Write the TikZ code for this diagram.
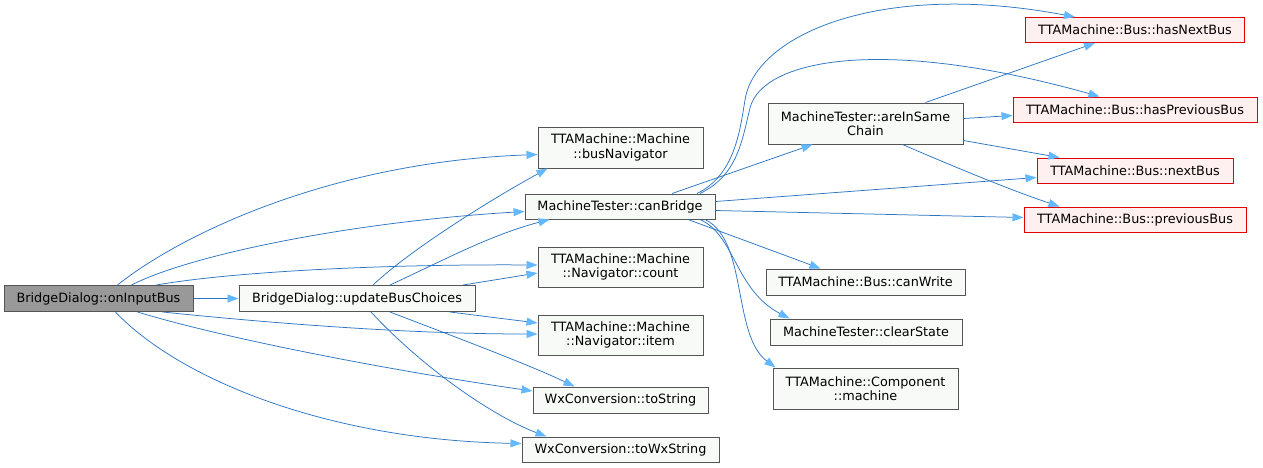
\documentclass[tikz,border=0pt]{standalone}
\usepackage{fontspec}
\setmainfont{DejaVu Sans}
\usepackage{tikz}
\usetikzlibrary{calc,arrows.meta}
\usepackage{xcolor}
\definecolor{edgeblue}{RGB}{45,118,196}
\definecolor{tipblue}{RGB}{99,184,255}
\definecolor{boxgray}{RGB}{85,85,85}
\definecolor{boxfill}{RGB}{248,250,248}
\definecolor{rootfill}{RGB}{153,153,153}
\definecolor{redfill}{RGB}{255,240,240}
\definecolor{redline}{RGB}{225,0,0}

\begin{document}
\begin{tikzpicture}[x=1pt,y=-1pt,
  fn/.style={rectangle,draw=boxgray,fill=boxfill,line width=1pt,minimum height=26pt,inner sep=0pt,align=center,font=\fontsize{12.8}{14.5}\selectfont},
  fnroot/.style={fn,fill=rootfill},
  fnred/.style={fn,draw=redline,fill=redfill,minimum height=25pt},
  call/.style={draw=edgeblue,line width=0.75pt,-{Triangle[length=11pt,width=8pt,color=tipblue]}}]
\useasboundingbox[fill=white] (0,0) rectangle (1263,467);
\node (root) at (98.5,298.5) [fnroot,minimum width=189pt] {BridgeDialog::onInputBus};
\node (upd) at (357,298.5) [fn,minimum width=236pt] {BridgeDialog::updateBusChoices};
\node (bnav) at (620.5,147.5) [fn,minimum width=165pt,minimum height=41pt] {TTAMachine::Machine\\::busNavigator};
\node (canb) at (620,206.5) [fn,minimum width=190pt,minimum height=25pt] {MachineTester::canBridge};
\node (cnt) at (620.5,267) [fn,minimum width=165pt,minimum height=40pt] {TTAMachine::Machine\\::Navigator::count};
\node (itm) at (620.5,335) [fn,minimum width=165pt,minimum height=40pt] {TTAMachine::Machine\\::Navigator::item};
\node (tostr) at (620.5,400) [fn,minimum width=175pt] {WxConversion::toString};
\node (towx) at (620.5,449.5) [fn,minimum width=197pt,minimum height=25pt] {WxConversion::toWxString};
\node (same) at (865.5,123.5) [fn,minimum width=195pt,minimum height=41pt] {MachineTester::areInSame\\Chain};
\node (cwr) at (865.5,282) [fn,minimum width=199pt] {TTAMachine::Bus::canWrite};
\node (clr) at (866,332) [fn,minimum width=192pt] {MachineTester::clearState};
\node (mach) at (865.5,388.5) [fn,minimum width=185pt,minimum height=41pt] {TTAMachine::Component\\::machine};
\foreach \nm/\yy/\ww/\txt in {hnext/30/219/hasNextBus,hprev/109.5/244/hasPreviousBus,nbus/170.5/196/nextBus,pbus/219.5/222/previousBus} {
    \node (\nm) at (1135,\yy) [fnred,minimum width=\ww pt] {TTAMachine::Bus::\txt};
}

\draw[call] (root.east) -- (upd.west);
\draw[call] ($(root.north)+(19,0)$) .. controls (180,235) and (330,162) .. ($(bnav.west)+(0,7)$);
\draw[call] ($(root.north)+(33,0)$) .. controls (190,255) and (350,222) .. ($(canb.west)+(0,5)$);
\draw[call] ($(root.north)+(58,0)$) .. controls (230,272) and (380,264) .. ($(cnt.west)+(0,-2)$);
\draw[call] ($(root.south)+(64,0)$) .. controls (260,322) and (400,334) .. ($(itm.west)+(0,-1)$);
\draw[call] ($(root.south)+(39,0)$) .. controls (230,340) and (400,372) .. ($(tostr.west)+(0,-9)$);
\draw[call] ($(root.south)+(17,0)$) .. controls (180,380) and (330,440) .. ($(towx.west)+(0,-6)$);

\draw[call] ($(upd.north)+(16,0)$) .. controls (410,250) and (490,200) .. ($(bnav.south west)+(10,0)$);
\draw[call] ($(upd.north)+(33,0)$) .. controls (440,262) and (490,235) .. ($(canb.south west)+(25,0)$);
\draw[call] ($(upd.north)+(106,0)$) -- ($(cnt.west)+(0,6)$);
\draw[call] ($(upd.south)+(93,0)$) -- ($(itm.west)+(0,-12)$);
\draw[call] ($(upd.south)+(33,0)$) .. controls (450,335) and (530,365) .. ($(tostr.north west)+(42,0)$);
\draw[call] ($(upd.south)+(14,0)$) .. controls (420,365) and (490,415) .. ($(towx.north west)+(25,0)$);

\draw[call] ($(canb.north)+(52,0)$) -- ($(same.south west)+(45,0)$);
\draw[call] ($(canb.north)+(77,0)$) .. controls (735,175) and (740,130) .. (745,100) .. controls (755,35) and (880,-20) .. ($(hnext.north west)+(50,0)$);
\draw[call] ($(canb.north)+(80,0)$) .. controls (738,175) and (742,140) .. (750,108) .. controls (762,60) and (880,35) .. ($(hprev.north west)+(87,0)$);
\draw[call] ($(canb.east)+(0,-5)$) -- ($(nbus.west)+(0,7)$);
\draw[call] ($(canb.east)+(0,4)$) -- ($(pbus.west)+(0,-2)$);
\draw[call] ($(canb.south)+(68,0)$) -- ($(cwr.north west)+(55,0)$);
\draw[call] ($(canb.south)+(80,0)$) .. controls (735,235) and (735,290) .. ($(clr.north west)+(20,0)$);
\draw[call] ($(canb.south)+(85,0)$) .. controls (748,240) and (732,335) .. ($(mach.north west)+(3,0)$);

\draw[call] ($(same.north)+(60,0)$) -- ($(hnext.south west)+(70,0)$);
\draw[call] ($(same.east)+(0,-5)$) -- ($(hprev.west)+(0,6)$);
\draw[call] ($(same.east)+(0,17)$) -- ($(nbus.north west)+(23,0)$);
\draw[call] ($(same.south)+(37,0)$) .. controls (950,165) and (1010,190) .. ($(pbus.north west)+(36,0)$);
\end{tikzpicture}
\end{document}
